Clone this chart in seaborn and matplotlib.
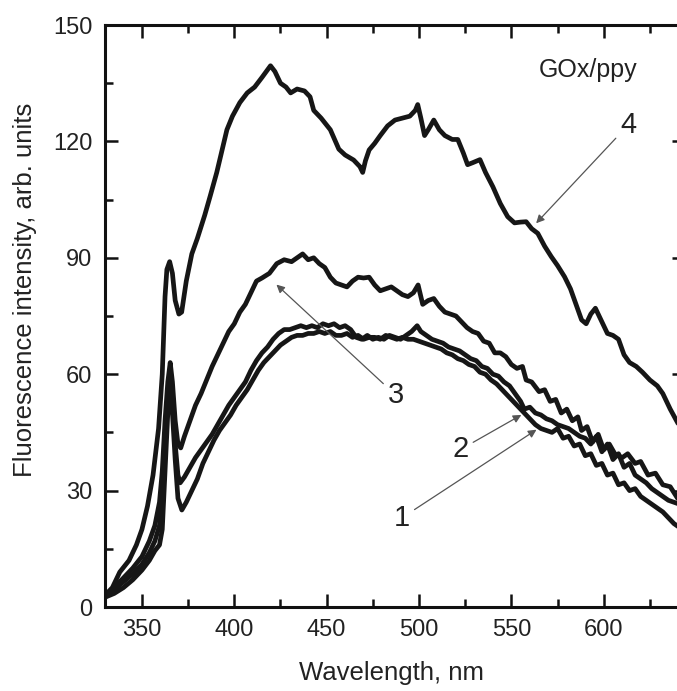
import matplotlib
matplotlib.use("Agg")
import matplotlib.pyplot as plt
import seaborn as sns
import pandas as pd
from matplotlib.ticker import MultipleLocator

# ---- data ----
wl_4 = [330, 334, 338, 343, 347, 350, 353, 356, 359, 361, 362.5, 363.5, 365, 366.5, 368, 370, 371.5,
        374, 377, 380, 384, 387, 390.5, 393, 396, 399, 403, 407, 411, 415, 419.6, 422, 425, 428,
        430.5, 434, 438, 441, 443, 447, 452, 456.6, 460, 464.6, 468, 469.5, 471, 473, 476, 479,
        483, 487, 491, 495, 498, 499.3, 501, 503, 505, 508, 511, 514, 518, 521, 524, 526.3, 529,
        533, 536, 540, 544, 548, 551.7, 555, 558, 561, 564.3, 568, 571.6, 575, 578.8, 582, 585,
        588, 590.5, 593, 595.5, 598, 602, 605, 608, 611, 614, 617.6, 621, 625, 629, 632, 636, 640, 644]
int_4 = [3, 5, 9, 12, 16, 20, 26, 34, 46, 60, 80, 87, 89, 86, 79, 75.5, 76,
         84, 91, 95, 101, 106, 112, 117, 123, 126.5, 130, 132.5, 134, 136.5, 139.5, 138, 135, 134,
         132.5, 133.5, 133, 131.5, 128, 126, 123, 118, 116.5, 115.2, 113.5, 112, 115, 117.8, 119.5, 121.5,
         124, 125.5, 126, 126.5, 128, 129.5, 126, 121.5, 123, 125.5, 123, 121.5, 120.5, 120.5, 117, 114, 114.5,
         115.3, 112, 108.3, 104, 100.6, 99, 99.2, 99.3, 97.5, 96.3, 93, 90.3, 88, 85.1, 82, 78,
         74, 73, 75.5, 77, 74.5, 70.5, 70, 69, 65, 63, 62, 60.5, 58.5, 57, 55, 51, 47.5, 44]

wl_3 = [330, 335, 340, 345, 350, 354, 357, 359.5, 361, 362.5, 364, 365.3, 366.5, 368, 369.5, 371,
        373, 376, 379, 382, 385, 388, 391, 394, 397, 400, 403, 406, 409, 412, 415, 419, 423, 427,
        431, 434, 437, 440, 443, 446, 449, 452, 455, 458, 461, 464, 467, 470, 473, 476, 479, 482,
        485, 488, 491, 494, 497, 499.5, 502, 505, 508, 511, 514, 517, 520, 523, 526, 529, 532, 535,
        538, 541, 544, 547, 550, 553, 556, 558, 561, 565, 568, 571, 574, 577, 580, 583, 586, 588,
        591, 594, 597, 600, 603, 606, 610, 613, 617, 620, 624, 628, 632, 636, 640, 644]
int_3 = [3, 5, 7.5, 10, 13, 17, 21, 27, 35, 48, 58, 63, 58, 48, 42, 41,
         44, 48, 52, 55, 58.5, 62, 65, 68, 71, 73, 76, 78, 81, 84, 84.8, 86, 88.5, 89.5,
         89, 90, 91, 89.5, 90, 88.5, 87.5, 85, 83.5, 83, 82.5, 84, 85, 84.8, 85, 83, 81.5, 82,
         82.5, 81.5, 80.5, 80, 81, 83, 78, 79, 79.5, 77.5, 76, 75.5, 75, 73.5, 72, 71, 70.5, 68.5,
         68, 65.5, 65.5, 64.5, 62.5, 61.5, 62, 58.5, 58, 55.5, 56, 53, 53.5, 50, 51, 48, 49, 45.5,
         46.5, 42.5, 44.5, 40.5, 42, 39.5, 38.5, 39.5, 37, 37.5, 34, 34.5, 31.5, 31, 28, 26.5]

wl_2 = [330, 335, 340, 345, 350, 354, 357, 359.5, 361, 362.5, 364, 365.3, 366.5, 368, 369.5, 370.7,
        373, 376, 379, 382, 385, 388, 391, 394, 397, 400, 403, 406, 409, 412, 415, 418, 421, 424,
        427, 430, 433, 436, 439, 442, 445, 448, 451, 454, 457, 460, 463, 466, 469, 472, 475, 478,
        481, 484, 487, 490, 493, 496, 499, 501, 504, 507, 510, 513, 516, 519, 522, 525, 528, 531,
        534, 537, 540, 543, 546, 549, 552, 555, 557, 560, 563, 566, 569, 572, 575, 578, 581, 584,
        587, 590, 593, 596, 599, 602, 605, 608, 611, 614, 617, 620, 623, 626, 629, 632, 635, 638, 641, 644]
int_2 = [3, 4.5, 6.5, 8.5, 11, 14, 17, 21, 27, 42, 55, 60, 55, 42, 34, 32,
         33.5, 36, 38.5, 40.5, 42.5, 44.5, 47, 49.5, 52, 54, 56, 58, 61, 63.5, 65.5, 67, 69, 70.5,
         71.5, 71.5, 72, 72.5, 72, 72.5, 72, 73, 72.5, 73, 72, 72.5, 71.5, 69.5, 69, 70, 69, 69.5,
         69, 70, 69.5, 69, 70, 71, 72.5, 71, 70, 69, 68.5, 68, 67, 66.5, 66, 65, 64, 63.5,
         62, 61.5, 60, 59.5, 58, 57, 55, 53, 51, 51.5, 50, 49.5, 48.5, 48, 47, 46.5, 46, 45,
         44, 43.5, 42, 44, 40, 42, 38, 39.5, 36, 37, 34, 33, 32, 30.5, 29.5, 28.5, 27.5, 27, 26.5, 25.5]

wl_1 = [330, 335, 340, 345, 350, 354, 357, 359.5, 361, 362.5, 364, 365.3, 366.5, 368, 369.5, 371.6,
        374, 377, 380, 383, 386, 389, 392, 395, 398, 401, 404, 407, 410, 413, 416, 419, 422, 425,
        428, 431, 434, 437, 440, 443, 446, 449, 452, 455, 458, 461, 464, 467, 470, 473, 476, 479,
        482, 485, 488, 491, 494, 497, 500, 503, 506, 509, 512, 515, 518, 521, 524, 527, 530, 533,
        536, 539, 542, 545, 548, 551, 554, 557, 560, 563, 566, 569, 572, 575, 578, 581, 584, 587,
        590, 593, 596, 599, 602, 605, 608, 611, 614, 617, 620, 623, 626, 629, 632, 635, 638, 641, 644]
int_1 = [2.5, 3.5, 5, 7, 9.5, 12, 14.5, 16, 20, 35, 50, 57, 50, 38, 28, 25,
         27, 30, 33, 37, 40, 43, 45.5, 47.5, 49.5, 52, 54, 56, 58.5, 61, 63, 64.5, 66, 67.5,
         68.5, 69.5, 70, 70, 70.5, 70.5, 71, 70.5, 71, 70, 70, 70.5, 69.5, 70, 69, 69.5, 69.5, 69,
         70, 69.5, 69, 69.5, 69, 69, 68.5, 68, 67.5, 67, 66.5, 65.5, 65, 64, 63.5, 62.5, 62, 60.5,
         60, 58.5, 57.5, 56, 54.5, 53, 51.5, 50, 48.5, 47, 46, 45.5, 45, 46, 43.5, 44, 41.5, 42,
         39, 39.5, 36.5, 37, 34, 34.5, 31.5, 32, 30, 30.5, 28.5, 27.5, 26.5, 25.5, 24.5, 23, 21.5, 20.5, 19.5]

curves = [("1", wl_1, int_1), ("2", wl_2, int_2), ("3", wl_3, int_3), ("4", wl_4, int_4)]

x_ticks = [350, 400, 450, 500, 550, 600]
y_ticks = [0, 30, 60, 90, 120, 150]

# ---- plot ----
sns.set_style("ticks")
plt.rcParams['font.family'] = ['Liberation Sans', 'DejaVu Sans']

fig = plt.figure(figsize=(6.77, 6.91), dpi=100)
ax = fig.add_axes([105 / 677, 1 - 607 / 691, 580 / 677, 582 / 691])

for name, wl, inten in curves:
    df = pd.DataFrame({"Wavelength": wl, "Intensity": inten})
    sns.lineplot(data=df, x="Wavelength", y="Intensity", ax=ax, color="#161616",
                 linewidth=3.4, sort=False, estimator=None)

ax.set_xlim(330, 644)
ax.set_ylim(0, 150)
ax.set_xticks(x_ticks)
ax.set_yticks(y_ticks)
ax.xaxis.set_minor_locator(MultipleLocator(25))
ax.yaxis.set_minor_locator(MultipleLocator(15))
ax.tick_params(which="both", direction="in", top=True, right=True, color="#111111",
               labelsize=17, labelcolor="#222222")
ax.tick_params(which="major", length=9.5, width=1.8, pad=9)
ax.tick_params(which="minor", length=5.5, width=1.8)
for s in ax.spines.values():
    s.set_linewidth(2.2)
    s.set_color("#111111")

ax.set_xlabel("Wavelength, nm", fontsize=18.5, color="#222222")
ax.set_ylabel("Fluorescence intensity, arb. units", fontsize=18.5, color="#222222")
ax.xaxis.set_label_coords(0.494, -0.092)
ax.yaxis.set_label_coords(-0.118, 0.545)

ax.text(591.5, 138.4, "GOx/ppy", fontsize=18, ha="center", va="center", color="#222222")

arrow = dict(arrowstyle="-|>", color="#555555", lw=0.9, mutation_scale=12, shrinkA=1, shrinkB=0)
ax.annotate("4", xy=(563.4, 98.9), xytext=(613.2, 124.2), fontsize=21, ha="center", va="center",
            color="#222222", arrowprops=arrow)
ax.annotate("3", xy=(422.8, 83.1), xytext=(487.4, 54.6), fontsize=21, ha="center", va="center",
            color="#222222", arrowprops=arrow)
ax.annotate("2", xy=(555.4, 49.5), xytext=(522.5, 40.6), fontsize=21, ha="center", va="center",
            color="#222222", arrowprops=arrow)
ax.annotate("1", xy=(563.6, 45.7), xytext=(490.8, 23.0), fontsize=21, ha="center", va="center",
            color="#222222", arrowprops=arrow)

fig.savefig("out.png", dpi=100)
